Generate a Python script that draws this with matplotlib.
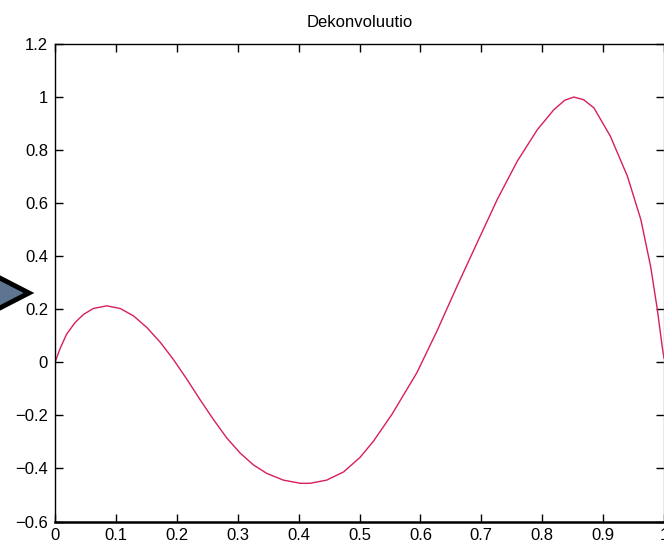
import matplotlib
matplotlib.use("Agg")
import matplotlib.pyplot as plt
from matplotlib.patches import Polygon

plt.rcParams['font.family'] = ['Liberation Sans', 'DejaVu Sans']

# Data
x_vals = [0.0, 0.008, 0.019, 0.033, 0.047, 0.063, 0.085, 0.107, 0.129, 0.151,
          0.173, 0.194, 0.216, 0.238, 0.260, 0.282, 0.304, 0.326, 0.348, 0.375,
          0.403, 0.419, 0.446, 0.474, 0.501, 0.523, 0.553, 0.594, 0.627, 0.660,
          0.693, 0.726, 0.759, 0.792, 0.819, 0.837, 0.852, 0.868, 0.885, 0.912,
          0.940, 0.962, 0.978, 0.989, 0.997, 1.0]
y_vals = [0.0, 0.05, 0.106, 0.15, 0.181, 0.203, 0.213, 0.203, 0.175, 0.131,
          0.075, 0.012, -0.062, -0.14, -0.215, -0.285, -0.342, -0.387, -0.419, -0.444,
          -0.456, -0.456, -0.444, -0.413, -0.358, -0.297, -0.197, -0.040, 0.117, 0.286,
          0.450, 0.613, 0.758, 0.877, 0.952, 0.988, 1.0, 0.99, 0.959, 0.852,
          0.701, 0.538, 0.362, 0.2, 0.06, 0.015]
x_ticks = [0, 0.1, 0.2, 0.3, 0.4, 0.5, 0.6, 0.7, 0.8, 0.9, 1.0]
x_tick_labels = ['0', '0.1', '0.2', '0.3', '0.4', '0.5', '0.6', '0.7', '0.8', '0.9', '1']
y_ticks = [-0.6, -0.4, -0.2, 0, 0.2, 0.4, 0.6, 0.8, 1.0, 1.2]
y_tick_labels = ['\u22120.6', '\u22120.4', '\u22120.2', '0', '0.2', '0.4', '0.6', '0.8', '1', '1.2']
title = 'Dekonvoluutio'

W, H = 664, 546
fig = plt.figure(figsize=(W / 100, H / 100), dpi=100)
left, right, top, bottom = 55, 664, 44, 521.5
ax = fig.add_axes([left / W, (H - bottom) / H, (right - left) / W, (bottom - top) / H])

ax.plot(x_vals, y_vals, color='#d81e5b', lw=1.0, solid_joinstyle='round')

ax.set_xlim(0, 1)
ax.set_ylim(-0.6, 1.2)
ax.set_xticks(x_ticks)
ax.set_xticklabels(x_tick_labels)
ax.set_yticks(y_ticks)
ax.set_yticklabels(y_tick_labels)
ax.tick_params(direction='in', length=6, width=1, top=True, right=True,
               labelsize=12, pad=5)
for s in ax.spines.values():
    s.set_linewidth(1.0)
ax.spines['bottom'].set_linewidth(1.8)
ax.spines['right'].set_color('#909090')
ax.set_title(title, fontsize=12, pad=12)

# Navigation triangle at left edge
tri = Polygon([[-6 / W, (H - 275) / H], [29 / W, (H - 293) / H], [-6 / W, (H - 311) / H]],
              closed=True, transform=fig.transFigure, facecolor='#5d7590',
              edgecolor='black', lw=3.5, joinstyle='miter', clip_on=False)
fig.patches.append(tri)

fig.savefig('out.png', dpi=100)
